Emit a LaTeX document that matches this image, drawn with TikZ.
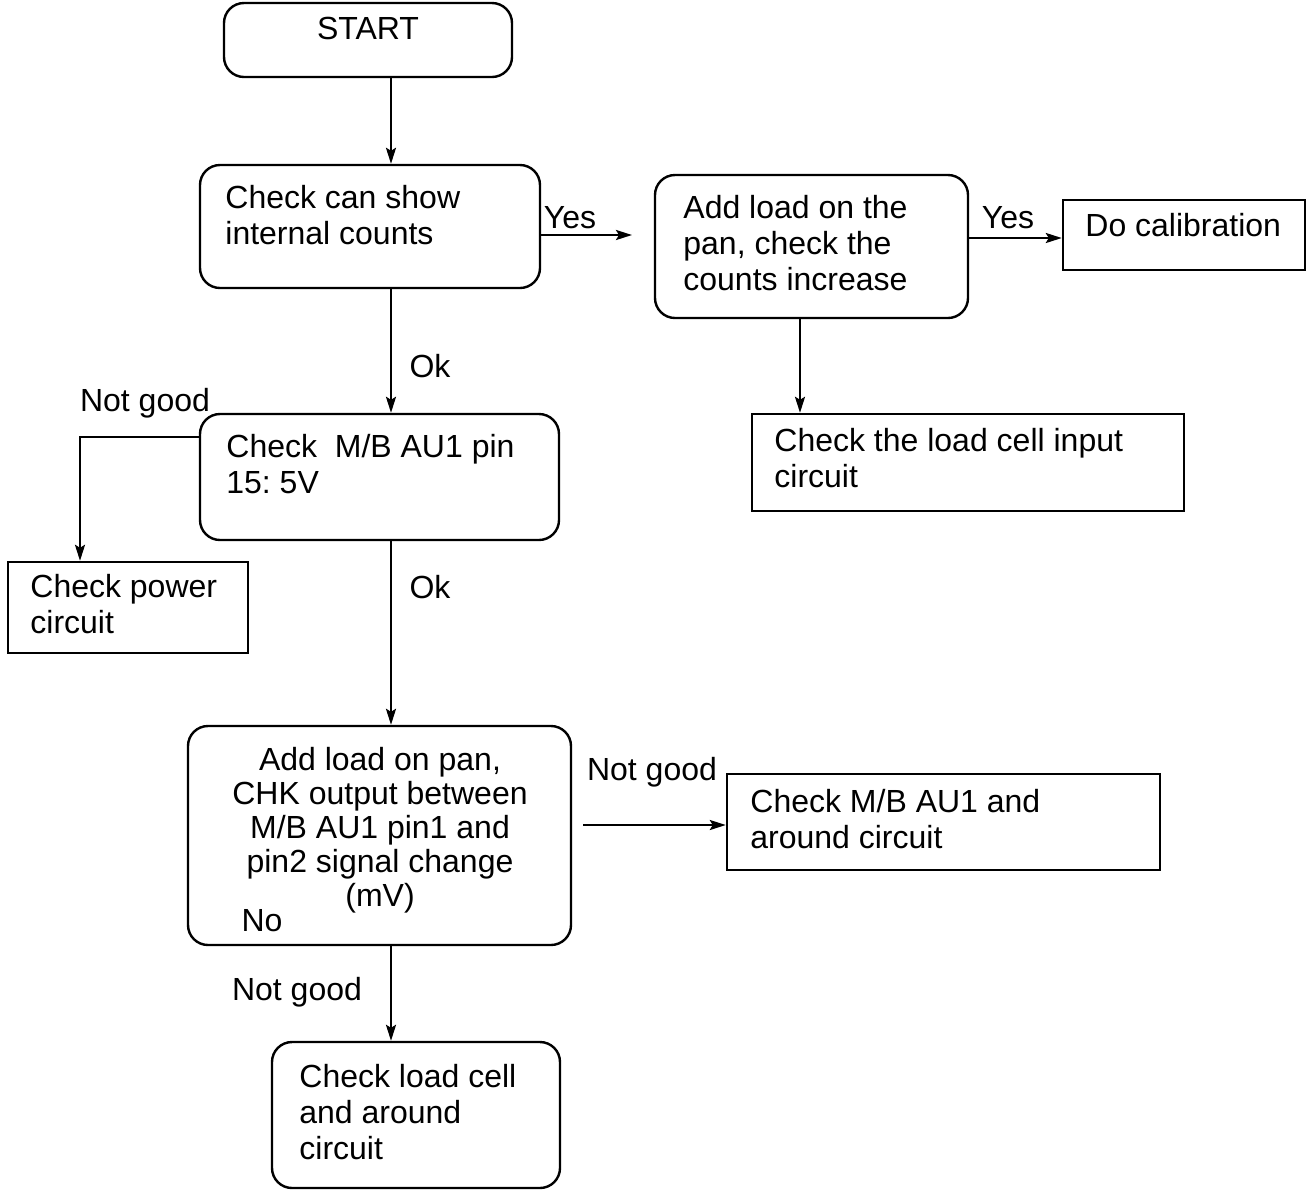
\documentclass[tikz,border=0pt]{standalone}
\usepackage{fontspec}
\setmainfont{Liberation Sans}
\usetikzlibrary{arrows.meta}
\usetikzlibrary{calc}
\frenchspacing

\begin{document}
\begin{tikzpicture}[x=0.5pt,y=-0.5pt,
    rbox/.style={draw, line width=1.2pt, rounded corners=10pt, inner sep=0pt},
    sbox/.style={draw, line width=1.2pt, inner sep=0pt},
    txt/.style={font=\fontsize{16}{18}\selectfont, align=left, inner sep=0pt, anchor=north west},
    lbl/.style={font=\fontsize{16}{18}\selectfont, inner sep=0pt},
    arr/.style={-{Stealth[length=8pt,width=5pt,inset=1.5pt]}, line width=1.2pt}]

        \useasboundingbox (0,0) rectangle (1306,1190);

        % guide lines
        \coordinate (main) at (391,0);
        \coordinate (drop) at (800,0);
        \coordinate (bend) at (80,437);
        \coordinate (yes1) at (632,235);
        \coordinate (yes2) at (1000,238);
        \coordinate (ng) at (583,825);

        % boxes
        \node[rbox, minimum width=144pt, minimum height=37pt] (start) at (368,40) {};
        \node[rbox, minimum width=170pt, minimum height=61.5pt] (check1) at (370,226.5) {};
        \node[rbox, minimum width=156.5pt, minimum height=71.5pt] (addload) at (811.5,246.5) {};
        \node[sbox, minimum width=121pt, minimum height=35pt] (calib) at (1184,235) {};
        \node[sbox, minimum width=216pt, minimum height=48.5pt] (lcinput) at (968,462.5) {};
        \node[rbox, minimum width=179.5pt, minimum height=63pt] (check2) at (379.5,477) {};
        \node[sbox, minimum width=120pt, minimum height=45.5pt] (power) at (128,607.5) {};
        \node[rbox, minimum width=191.5pt, minimum height=109.5pt] (check3) at (379.5,835.5) {};
        \node[sbox, minimum width=216.5pt, minimum height=48pt] (mbcirc) at (943.5,822) {};
        \node[rbox, minimum width=144pt, minimum height=73pt] (loadcell) at (416,1115) {};

        % texts
        \node[lbl] (tstart) at (368,28) {START};
        \node[txt] (tcheck1) at (225,185) {Check can show\\internal counts};
        \node[txt] (taddload) at (683,195) {Add load on the\\pan, check the\\counts increase};
        \node[txt] (tcalib) at (1085,213) {Do calibration};
        \node[txt] (tlcinput) at (774,428) {Check the load cell input\\circuit};
        \node[txt] (tcheck2) at (226,434) {Check~~M/B AU1 pin\\15: 5V};
        \node[txt] (tpower) at (30,574) {Check power\\circuit};
        \node[txt, align=center, anchor=north, font=\fontsize{16}{17}\selectfont] (tcheck3) at (380,747)
            {Add load on pan,\\CHK output between\\M/B AU1 pin1 and\\pin2 signal change\\(mV)};
        \node[lbl] (tno) at (262,921) {No};
        \node[txt] (tmbcirc) at (750,789) {Check M/B AU1 and\\around circuit};
        \node[txt] (tloadcell) at (299,1064) {Check load cell\\and around\\circuit};

        % labels
        \node[lbl] (lyes1) at (570,218) {Yes};
        \node[lbl] (lyes2) at (1008,218) {Yes};
        \node[lbl] (lok1) at (430,366) {Ok};
        \node[lbl] (lok2) at (430,587) {Ok};
        \node[lbl] (lng1) at (145,403) {Not good};
        \node[lbl] (lng2) at (652,772) {Not good};
        \node[lbl] (lng3) at (297,992) {Not good};

        % connectors
        \draw[arr] (start.south -| main) -- (check1.north -| main);
        \draw[arr] (check1.east |- yes1) -- (yes1);
        \draw[arr] (addload.east |- yes2) -- (calib.west |- yes2);
        \draw[arr] (addload.south -| drop) -- (lcinput.north -| drop);
        \draw[arr] (check1.south -| main) -- (check2.north -| main);
        \draw[arr] (check2.west |- bend) -| (power.north -| bend);
        \draw[arr] (check2.south -| main) -- (check3.north -| main);
        \draw[arr] (ng) -- (mbcirc.west |- ng);
        \draw[arr] (check3.south -| main) -- (loadcell.north -| main);
    \end{tikzpicture}
\end{document}
